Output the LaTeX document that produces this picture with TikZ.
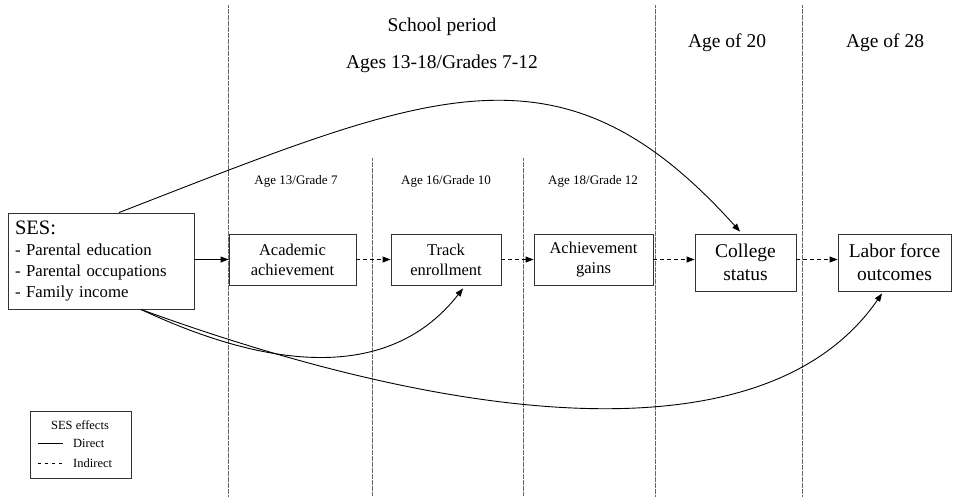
\documentclass[tikz,border=0pt]{standalone}
\usepackage{fontspec}
\setmainfont{Liberation Serif}
\usetikzlibrary{arrows.meta}
\begin{document}
\begin{tikzpicture}[x=1pt,y=-1pt,
  box/.style={draw=black!80,line width=0.9pt,align=center,inner sep=0pt},
  smallbox/.style={box,minimum height=51pt,font=\fontsize{16.5}{20}\selectfont},
  bigbox/.style={box,minimum height=57pt,font=\fontsize{19.5}{23}\selectfont},
  period/.style={font=\fontsize{19.5}{23}\selectfont},
  agelbl/.style={font=\fontsize{13}{15}\selectfont},
  legtext/.style={font=\fontsize{12.5}{14}\selectfont},
  divider/.style={draw=black!60,line width=0.6pt,dash pattern=on 0.6pt off 0.6pt},
  tip/.style={-{Triangle[length=8pt,width=6pt]},line width=0.9pt},
  indirect/.style={tip,dash pattern=on 4pt off 3pt}
]
\useasboundingbox (0,0) rectangle (960,496);
% dividers
\draw[divider] (228,5) -- (228,496);
\draw[divider] (655,5) -- (655,496);
\draw[divider] (802,5) -- (802,496);
\draw[divider] (372,158) -- (372,496);
\draw[divider] (523,158) -- (523,496);
% headings
\node[period] (hschool) at (442,27) {School period};
\node[period] (hages) at (442,64) {Ages 13-18/Grades 7-12};
\node[period] (h20) at (727,43) {Age of 20};
\node[period] (h28) at (885,43) {Age of 28};
\node[agelbl] (a13) at (296,181) {Age 13/Grade 7};
\node[agelbl] (a16) at (446,181) {Age 16/Grade 10};
\node[agelbl] (a18) at (593,181) {Age 18/Grade 12};
% boxes
\node[box,minimum width=186pt,minimum height=96pt,text width=172pt,align=left,
      font=\fontsize{16.75}{21}\selectfont] (ses) at (101,261)
  {{\fontsize{20.5}{22}\selectfont SES:}\\- Parental education\\- Parental occupations\\- Family income};
\node[smallbox,minimum width=127pt] (acad) at (292.5,259.5) {Academic\\achievement};
\node[smallbox,minimum width=110pt] (track) at (446,259.5) {Track\\enrollment};
\node[smallbox,minimum width=119pt] (gains) at (593.5,259.5) {Achievement\\gains};
\node[bigbox,minimum width=101pt] (college) at (745.5,262.5) {College\\status};
\node[bigbox,minimum width=113pt] (labor) at (894.5,262.5) {Labor force\\outcomes};
% connectors
\draw[tip] (ses.east |- acad.west) -- (acad.west);
\draw[indirect] (acad.east) -- (track.west);
\draw[indirect] (track.east) -- (gains.west);
\draw[indirect] (gains.east) -- (gains.east -| college.west);
\draw[indirect] (college.east |- gains.east) -- (gains.east -| labor.west);
\draw[tip] ([xshift=18pt]ses.north) .. controls (430,92) and (560,31) .. ([xshift=-5.5pt,yshift=2pt]college.north);
\draw[tip] ([xshift=40pt]ses.south) .. controls (270,370) and (390,382) .. ([xshift=17pt,yshift=-3pt]track.south);
\draw[tip] ([xshift=40pt]ses.south) .. controls (430,415) and (760,470) .. ([xshift=-12.5pt,yshift=-2pt]labor.south);
% legend
\node[draw=black!80,line width=0.9pt,minimum width=101pt,minimum height=67pt,inner sep=0pt] (legend) at (80.5,444.5) {};
\node[legtext] (ltitle) at (80,425) {SES effects};
\node[legtext,anchor=west,inner sep=0pt] (ldirect) at (73,443) {Direct};
\node[legtext,anchor=west,inner sep=0pt] (lindirect) at (73,463) {Indirect};
\coordinate (d1) at (38,443);
\coordinate (d2) at (63,443);
\draw[line width=0.8pt] (d1) -- (d2);
\coordinate (i1) at (38,463);
\coordinate (i2) at (63,463);
\draw[line width=0.8pt,dash pattern=on 3pt off 4pt] (i1) -- (i2);
\end{tikzpicture}
\end{document}
